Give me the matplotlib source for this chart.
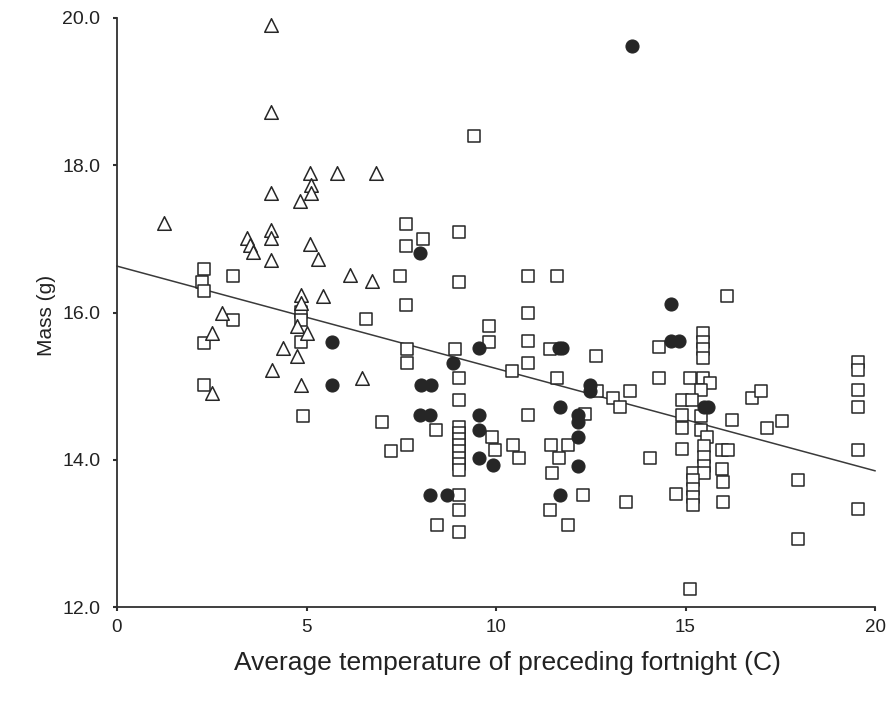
import matplotlib
matplotlib.use("Agg")
import matplotlib.pyplot as plt

plt.rcParams['font.family'] = ['Liberation Sans', 'DejaVu Sans']

# Triangles (open)
tri_x = [1.25, 3.42, 3.51, 3.6, 4.06, 4.06, 4.06, 4.06, 4.06, 4.06, 5.09, 5.81, 6.83,
         5.11, 5.11, 4.83, 5.09, 5.31, 6.15, 6.72, 4.85, 5.44, 4.85, 2.76, 4.74, 5.0,
         2.5, 4.39, 4.76, 4.08, 6.47, 4.85, 2.5]
tri_y = [17.22, 17.01, 16.92, 16.82, 19.91, 18.72, 17.62, 17.12, 17.01, 16.71, 17.9, 17.9, 17.9,
         17.73, 17.62, 17.51, 16.93, 16.72, 16.51, 16.43, 16.24, 16.22, 16.13, 16.0, 15.81, 15.72,
         15.72, 15.52, 15.41, 15.22, 15.11, 15.02, 14.91]

# Filled circles
circ_x = [13.6, 8.0, 5.68, 5.68, 9.55, 8.87, 11.65, 11.75, 8.02, 8.28, 12.48, 12.48, 11.69,
          8.0, 8.26, 9.55, 9.55, 9.55, 9.93, 8.26, 8.72, 12.17, 12.17, 12.17, 12.17, 11.69,
          14.62, 14.63, 14.83, 15.5, 15.6]
circ_y = [19.62, 16.81, 15.6, 15.01, 15.52, 15.31, 15.52, 15.52, 15.02, 15.02, 15.02, 14.93, 14.72,
          14.61, 14.61, 14.61, 14.41, 14.02, 13.93, 13.52, 13.52, 14.61, 14.51, 14.31, 13.92, 13.52,
          16.11, 15.61, 15.61, 14.72, 14.72]

# Open squares
sq_x = [2.3, 2.23, 2.3, 3.07, 3.07, 2.3, 2.3, 4.85, 4.85, 4.85, 4.9, 6.57,
        9.43, 7.62, 7.62, 8.08, 9.02, 7.47, 9.02, 10.84, 11.62, 7.62, 10.84, 9.81, 9.81, 10.84,
        7.64, 7.64, 8.93, 11.42, 12.63, 10.84, 10.43, 9.02, 11.62, 9.02, 12.66, 13.1, 13.27, 13.54,
        7.0, 7.22, 7.64, 8.42,
        9.02, 9.02, 9.02, 9.02, 9.02, 9.02, 9.02, 9.02,
        9.02, 9.02, 9.02, 8.44, 9.89, 9.97, 10.46, 10.61, 10.85, 11.44, 11.91, 11.65, 11.47,
        12.35, 12.3, 11.42, 11.91,
        14.3, 15.47, 15.47, 15.47, 15.47, 16.09, 14.3, 15.13, 15.47, 15.65, 15.42, 14.9, 15.16,
        14.9, 14.9, 15.42, 15.42, 16.24, 15.56, 14.9, 15.5, 15.5, 15.5, 15.95, 16.13, 14.06,
        15.2, 15.5, 15.95, 16.0, 15.2, 15.2, 15.2, 15.2, 14.75, 16.0, 13.43,
        16.75, 17.0, 17.14, 17.55, 17.98, 17.98, 15.12,
        19.56, 19.56, 19.56, 19.56, 19.56, 19.56]
sq_y = [16.59, 16.41, 16.29, 16.49, 15.9, 15.59, 15.02, 16.01, 15.9, 15.6, 14.6, 15.91,
        18.4, 17.2, 16.91, 17.0, 17.1, 16.49, 16.41, 16.5, 16.5, 16.1, 16.0, 15.81, 15.6, 15.61,
        15.51, 15.31, 15.51, 15.51, 15.41, 15.32, 15.21, 15.11, 15.11, 14.81, 14.93, 14.84, 14.72, 14.93,
        14.51, 14.12, 14.2, 14.41,
        14.45, 14.37, 14.28, 14.2, 14.12, 14.03, 13.94, 13.86,
        13.52, 13.32, 13.02, 13.12, 14.31, 14.13, 14.2, 14.02, 14.61, 14.2, 14.2, 14.02, 13.82,
        14.62, 13.52, 13.32, 13.12,
        15.53, 15.72, 15.6, 15.5, 15.38, 16.22, 15.11, 15.11, 15.11, 15.04, 14.95, 14.81, 14.81,
        14.61, 14.43, 14.59, 14.4, 14.54, 14.31, 14.14, 14.18, 14.04, 13.91, 14.13, 14.13, 14.03,
        13.82, 13.82, 13.88, 13.7, 13.73, 13.6, 13.5, 13.38, 13.53, 13.43, 13.42,
        14.84, 14.93, 14.43, 14.53, 13.73, 12.93, 12.24,
        15.33, 15.22, 14.95, 14.72, 14.13, 13.33]

# Regression line endpoints
line_x = [0, 20]
line_y = [16.63, 13.85]

x_ticks = [0, 5, 10, 15, 20]
x_ticklabels = ['0', '5', '10', '15', '20']
y_ticks = [12, 14, 16, 18, 20]
y_ticklabels = ['12.0', '14.0', '16.0', '18.0', '20.0']

xlabel = 'Average temperature of preceding fortnight (C)'
ylabel = 'Mass (g)'

W, H = 889, 709
fig = plt.figure(figsize=(W / 100, H / 100), dpi=100)
L, R, B, T = 117, 875, 607, 18
ax = fig.add_axes([L / W, 1 - B / H, (R - L) / W, (B - T) / H])

ink = '#262626'
ax.plot(line_x, line_y, color='#3a3a3a', lw=1.1, zorder=2, clip_on=False)
ax.scatter(sq_x, sq_y, marker='s', s=85, facecolors='white', edgecolors=ink,
           linewidths=1.1, zorder=3, clip_on=False)
ax.scatter(tri_x, tri_y, marker='^', s=95, facecolors='white', edgecolors=ink,
           linewidths=1.1, zorder=4, clip_on=False)
ax.scatter(circ_x, circ_y, marker='o', s=88, facecolors=ink, edgecolors=ink,
           linewidths=0.8, zorder=5, clip_on=False)

ax.set_xlim(0, 20)
ax.set_ylim(12, 20)
ax.set_xticks(x_ticks)
ax.set_xticklabels(x_ticklabels)
ax.set_yticks(y_ticks)
ax.set_yticklabels(y_ticklabels)

for s in ['top', 'right']:
    ax.spines[s].set_visible(False)
for s in ['left', 'bottom']:
    ax.spines[s].set_color('#303030')
    ax.spines[s].set_linewidth(1.3)

ax.tick_params(axis='x', length=3, width=1.5, color='#303030', pad=6, labelsize=13.5,
               labelcolor='#222222')
ax.tick_params(axis='y', length=3, width=1.5, color='#303030', pad=9, labelsize=14,
               labelcolor='#222222')

ax.set_xlabel(xlabel, fontsize=19, color='#222222')
ax.set_ylabel(ylabel, fontsize=15, color='#222222')
ax.xaxis.set_label_coords((507 - L) / (R - L), (B - 651) / (B - T))
ax.yaxis.set_label_coords((56 - L) / (R - L), (B - 315) / (B - T))

fig.savefig('out.png', dpi=100, facecolor='white')
